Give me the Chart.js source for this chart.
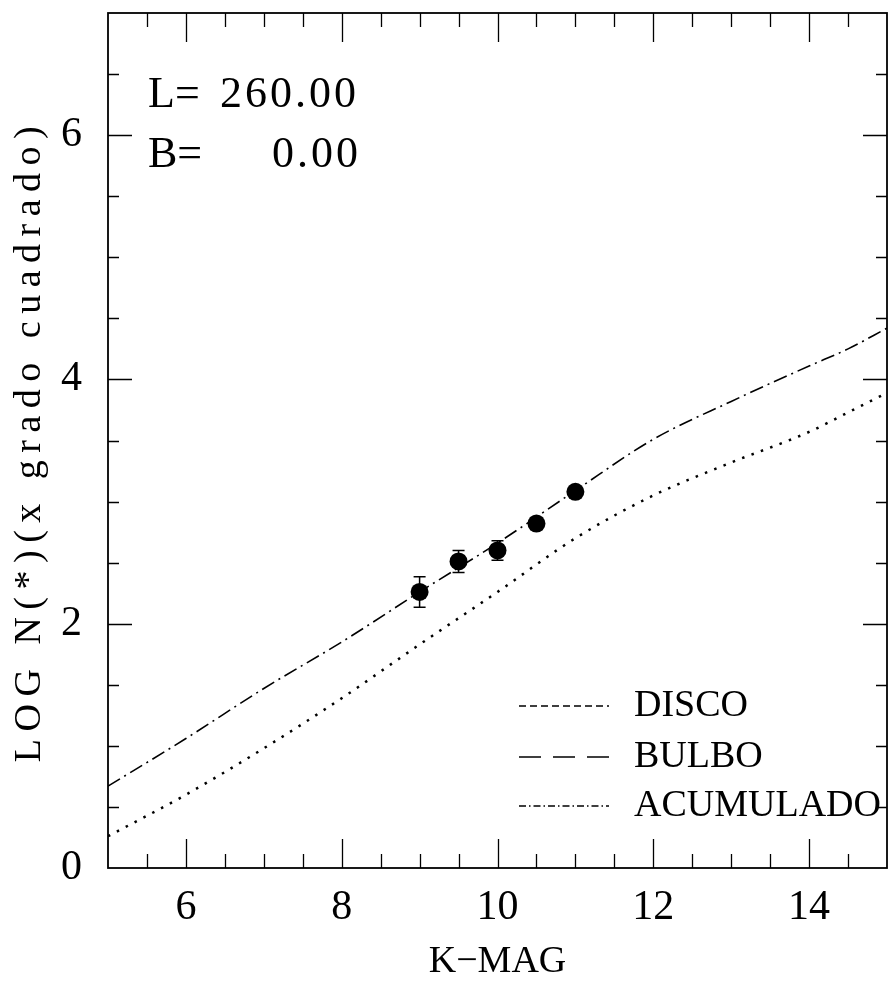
<!DOCTYPE html>
<html>
<head>
<meta charset="utf-8">
<script src="https://cdn.jsdelivr.net/npm/chart.js@4.4.1/dist/chart.umd.min.js"></script>
<style>
  html, body { margin: 0; padding: 0; background: #fff; }
  #wrap { width: 889px; height: 983px; }
</style>
</head>
<body>
<div id="wrap"><canvas id="conteos" width="889" height="983"></canvas></div>
<script>
// conteos en banda K: log N(*) por grado cuadrado frente a la magnitud K (l=260, b=0)
const kMag = [5, 6, 7, 8, 9, 10, 11, 12, 13, 14, 14.5, 15];
const logAcumulado = [0.67, 1.06, 1.47, 1.85, 2.26, 2.66, 3.09, 3.51, 3.82, 4.11, 4.25, 4.42];
const logDisco = [0.26, 0.60, 0.98, 1.39, 1.83, 2.26, 2.70, 3.05, 3.32, 3.57, 3.73, 3.89];

// observados con barras de error
const obsMag = [9, 9.5, 10, 10.5, 11];
const obsLog = [2.26, 2.51, 2.60, 2.82, 3.08];
const obsErr = [0.125, 0.09, 0.08, 0.05, 0.03];

const xTickVals = [6, 8, 10, 12, 14];
const yTickVals = [0, 2, 4, 6];
const coordTexto = [["L=", "260.00"], ["B=", "0.00"]];
const yTitulo = "LOG N(*)(x grado cuadrado)";
const xTitulo = "K\u2212MAG";

const SERIF = '"Liberation Serif", "Times New Roman", serif';

const pares = (xs, ys) => xs.map((x, i) => ({ x, y: ys[i] }));

// sin margen extra por etiquetas: el area del grafico queda fija
const sinPadding = (s) => {
  s.paddingTop = 0; s.paddingBottom = 0; s.paddingLeft = 0; s.paddingRight = 0;
};

// marco completo + ticks hacia adentro en los 4 lados
const marco = {
  id: "marco",
  afterDatasetsDraw(chart) {
    const { ctx, chartArea: a, scales: { x, y } } = chart;
    ctx.save();
    ctx.strokeStyle = "#000";
    ctx.lineWidth = 1.3;
    ctx.beginPath();
    for (let i = 11; i <= 29; i++) {
      const v = i / 2;
      const px = Math.round(x.getPixelForValue(v)) + 0.5;
      const len = v % 2 === 0 ? 29 : 14;
      ctx.moveTo(px, a.bottom); ctx.lineTo(px, a.bottom - len);
      ctx.moveTo(px, a.top); ctx.lineTo(px, a.top + len);
    }
    for (let i = 1; i <= 13; i++) {
      const v = i / 2;
      const py = Math.round(y.getPixelForValue(v)) + 0.5;
      const len = v % 2 === 0 ? 24 : 11;
      ctx.moveTo(a.left, py); ctx.lineTo(a.left + len, py);
      ctx.moveTo(a.right, py); ctx.lineTo(a.right - len, py);
    }
    ctx.stroke();
    ctx.lineWidth = 1.8;
    ctx.strokeRect(a.left, a.top, a.right - a.left, a.bottom - a.top);
    ctx.restore();
  },
};

// barras de error de los puntos observados
const barrasError = {
  id: "barrasError",
  afterDatasetsDraw(chart) {
    const { ctx, scales: { x, y } } = chart;
    ctx.save();
    ctx.strokeStyle = "#000";
    ctx.lineWidth = 1.5;
    ctx.beginPath();
    obsMag.forEach((m, i) => {
      const px = x.getPixelForValue(m);
      const top = y.getPixelForValue(obsLog[i] + obsErr[i]);
      const bot = y.getPixelForValue(obsLog[i] - obsErr[i]);
      ctx.moveTo(px, top); ctx.lineTo(px, bot);
      ctx.moveTo(px - 6, top); ctx.lineTo(px + 6, top);
      ctx.moveTo(px - 6, bot); ctx.lineTo(px + 6, bot);
    });
    ctx.stroke();
    ctx.restore();
  },
};

// textos: coordenadas, leyenda y titulo vertical
const textos = {
  id: "textos",
  afterDraw(chart) {
    const { ctx, chartArea: a } = chart;
    ctx.save();
    ctx.fillStyle = "#000";
    ctx.textBaseline = "alphabetic";
    ctx.textAlign = "left";
    ctx.font = `44px ${SERIF}`;
    ctx.fillText(coordTexto[0][0], 148, 107);
    ctx.fillText(coordTexto[1][0], 148, 167);
    ctx.letterSpacing = "3px";
    ctx.fillText(coordTexto[0][1], 220, 107);
    ctx.fillText(coordTexto[1][1], 272, 167);
    ctx.letterSpacing = "0px";

    // leyenda
    const filas = [706, 757, 806];
    ctx.font = `38px ${SERIF}`;
    ctx.textBaseline = "middle";
    chart.data.datasets.filter((d) => d.legendDash).forEach((d, i) => {
      const yy = filas[i];
      ctx.save();
      ctx.lineWidth = 1.6;
      ctx.strokeStyle = "#000";
      ctx.setLineDash(d.legendDash);
      ctx.beginPath();
      ctx.moveTo(519, yy);
      ctx.lineTo(609, yy);
      ctx.stroke();
      ctx.restore();
      ctx.fillText(d.label, 634, yy);
    });

    // titulo eje y
    ctx.translate(30, (a.top + a.bottom) / 2);
    ctx.rotate(-Math.PI / 2);
    ctx.textAlign = "center";
    ctx.textBaseline = "middle";
    ctx.font = `38px ${SERIF}`;
    ctx.letterSpacing = "7.5px";
    ctx.fillText(yTitulo, 0, 0);
    ctx.restore();
  },
};

new Chart(document.getElementById("conteos"), {
  type: "line",
  data: {
    datasets: [
      {
        label: "DISCO",
        data: pares(kMag, logDisco),
        borderColor: "#000",
        borderWidth: 2.5,
        borderDash: [2.5, 7.5],
        pointRadius: 0,
        tension: 0.4,
        cubicInterpolationMode: "monotone",
        legendDash: [7, 4],
      },
      {
        label: "BULBO",
        data: [],
        borderColor: "#000",
        borderWidth: 1.5,
        borderDash: [22, 12],
        pointRadius: 0,
        legendDash: [22, 12],
      },
      {
        label: "ACUMULADO",
        data: pares(kMag, logAcumulado),
        borderColor: "#000",
        borderWidth: 1.6,
        borderDash: [14, 5, 2, 5],
        pointRadius: 0,
        tension: 0.4,
        cubicInterpolationMode: "monotone",
        legendDash: [7, 3, 1.5, 3],
      },
      {
        label: "observado",
        type: "scatter",
        data: pares(obsMag, obsLog),
        showLine: false,
        pointRadius: 9,
        pointBackgroundColor: "#000",
        pointBorderColor: "#000",
        pointBorderWidth: 0,
      },
    ],
  },
  options: {
    responsive: false,
    devicePixelRatio: 1,
    animation: false,
    events: [],
    layout: { autoPadding: false, padding: { top: 13, right: 2, left: 0, bottom: 0 } },
    plugins: { legend: { display: false }, tooltip: { enabled: false } },
    scales: {
      x: {
        type: "linear",
        position: "bottom",
        min: 5,
        max: 15,
        afterBuildTicks: (s) => { s.ticks = xTickVals.map((v) => ({ value: v })); },
        afterFit: (s) => { s.height = 115; sinPadding(s); },
        grid: { display: false, drawTicks: false },
        border: { display: false },
        ticks: { padding: 15, color: "#000", maxRotation: 0, autoSkip: false, font: { family: SERIF, size: 42 } },
        title: { display: true, text: xTitulo, color: "#000", font: { family: SERIF, size: 38, lineHeight: 1 }, padding: { top: 0, bottom: 2 } },
      },
      y: {
        type: "linear",
        min: 0,
        max: 7,
        afterBuildTicks: (s) => { s.ticks = yTickVals.map((v) => ({ value: v })); },
        afterFit: (s) => { s.width = 108; sinPadding(s); },
        grid: { display: false, drawTicks: false },
        border: { display: false },
        ticks: { padding: 26, color: "#000", font: { family: SERIF, size: 42 } },
      },
    },
  },
  plugins: [marco, barrasError, textos],
});
</script>
</body>
</html>
